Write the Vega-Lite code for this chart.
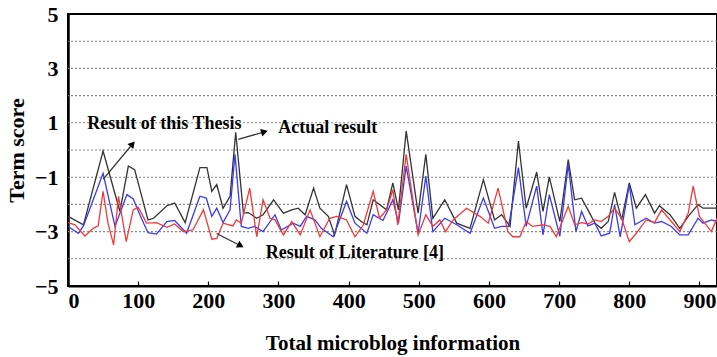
{
  "$schema": "https://vega.github.io/schema/vega-lite/v6.json",
  "width": 649,
  "height": 272,
  "autosize": "none",
  "padding": {"left": 68, "top": 14, "right": 0, "bottom": 71},
  "background": "white",
  "config": {"view": {"stroke": "black", "strokeWidth": 2}, "font": "Liberation Serif"},
  "datasets": {
    "grid": [{"v": -4}, {"v": -3}, {"v": -2}, {"v": -1}, {"v": 0}, {"v": 1}, {"v": 2}, {"v": 3}, {"v": 4}],
    "series": [
      {"s":"Actual result","x":0,"y":-2.44},{"s":"Actual result","x":22,"y":-2.75},{"s":"Actual result","x":50,"y":-0.04},{"s":"Actual result","x":74,"y":-2.26},{"s":"Actual result","x":86,"y":-0.59},{"s":"Actual result","x":95,"y":-0.72},{"s":"Actual result","x":114,"y":-2.57},{"s":"Actual result","x":122,"y":-2.51},{"s":"Actual result","x":141,"y":-2.05},{"s":"Actual result","x":152,"y":-1.95},{"s":"Actual result","x":167,"y":-2.67},{"s":"Actual result","x":188,"y":-0.65},{"s":"Actual result","x":198,"y":-0.65},{"s":"Actual result","x":205,"y":-1.52},{"s":"Actual result","x":212,"y":-1.27},{"s":"Actual result","x":221,"y":-2.14},{"s":"Actual result","x":231,"y":-1.7},{"s":"Actual result","x":239,"y":0.65},{"s":"Actual result","x":250,"y":-2.32},{"s":"Actual result","x":257,"y":-2.3},{"s":"Actual result","x":269,"y":-2.51},{"s":"Actual result","x":278,"y":-2.38},{"s":"Actual result","x":293,"y":-1.83},{"s":"Actual result","x":307,"y":-2.32},{"s":"Actual result","x":319,"y":-2.2},{"s":"Actual result","x":328,"y":-2.14},{"s":"Actual result","x":338,"y":-2.38},{"s":"Actual result","x":350,"y":-1.4},{"s":"Actual result","x":359,"y":-2.14},{"s":"Actual result","x":371,"y":-2.44},{"s":"Actual result","x":380,"y":-3.12},{"s":"Actual result","x":397,"y":-1.27},{"s":"Actual result","x":409,"y":-2.44},{"s":"Actual result","x":418,"y":-2.63},{"s":"Actual result","x":426,"y":-2.75},{"s":"Actual result","x":435,"y":-1.83},{"s":"Actual result","x":454,"y":-2.2},{"s":"Actual result","x":463,"y":-1.21},{"s":"Actual result","x":471,"y":-2.2},{"s":"Actual result","x":482,"y":0.7},{"s":"Actual result","x":499,"y":-2.32},{"s":"Actual result","x":510,"y":-0.16},{"s":"Actual result","x":520,"y":-2.51},{"s":"Actual result","x":537,"y":-1.83},{"s":"Actual result","x":554,"y":-2.69},{"s":"Actual result","x":573,"y":-2.88},{"s":"Actual result","x":592,"y":-1.09},{"s":"Actual result","x":608,"y":-2.57},{"s":"Actual result","x":618,"y":-2.38},{"s":"Actual result","x":630,"y":-2.81},{"s":"Actual result","x":642,"y":0.33},{"s":"Actual result","x":653,"y":-2.14},{"s":"Actual result","x":668,"y":-0.81},{"s":"Actual result","x":677,"y":-2.26},{"s":"Actual result","x":686,"y":-0.99},{"s":"Actual result","x":701,"y":-2.63},{"s":"Actual result","x":713,"y":-0.35},{"s":"Actual result","x":722,"y":-1.83},{"s":"Actual result","x":732,"y":-1.77},{"s":"Actual result","x":741,"y":-2.2},{"s":"Actual result","x":751,"y":-2.69},{"s":"Actual result","x":760,"y":-2.88},{"s":"Actual result","x":770,"y":-2.63},{"s":"Actual result","x":779,"y":-1.56},{"s":"Actual result","x":789,"y":-2.57},{"s":"Actual result","x":800,"y":-1.21},{"s":"Actual result","x":810,"y":-2.14},{"s":"Actual result","x":823,"y":-1.64},{"s":"Actual result","x":836,"y":-2.32},{"s":"Actual result","x":843,"y":-2.05},{"s":"Actual result","x":858,"y":-2.38},{"s":"Actual result","x":872,"y":-2.88},{"s":"Actual result","x":884,"y":-2.44},{"s":"Actual result","x":898,"y":-2.01},{"s":"Actual result","x":905,"y":-2.14},{"s":"Actual result","x":925,"y":-2.14},
      {"s":"Result of this Thesis","x":0,"y":-2.81},{"s":"Result of this Thesis","x":15,"y":-3.06},{"s":"Result of this Thesis","x":22,"y":-2.79},{"s":"Result of this Thesis","x":50,"y":-0.86},{"s":"Result of this Thesis","x":67,"y":-2.81},{"s":"Result of this Thesis","x":84,"y":-1.64},{"s":"Result of this Thesis","x":93,"y":-1.8},{"s":"Result of this Thesis","x":103,"y":-2.42},{"s":"Result of this Thesis","x":114,"y":-3.04},{"s":"Result of this Thesis","x":126,"y":-3.09},{"s":"Result of this Thesis","x":141,"y":-2.63},{"s":"Result of this Thesis","x":152,"y":-2.59},{"s":"Result of this Thesis","x":169,"y":-3.06},{"s":"Result of this Thesis","x":188,"y":-1.7},{"s":"Result of this Thesis","x":197,"y":-1.77},{"s":"Result of this Thesis","x":205,"y":-2.44},{"s":"Result of this Thesis","x":212,"y":-2.14},{"s":"Result of this Thesis","x":221,"y":-2.67},{"s":"Result of this Thesis","x":231,"y":-2.2},{"s":"Result of this Thesis","x":238,"y":-0.16},{"s":"Result of this Thesis","x":247,"y":-2.81},{"s":"Result of this Thesis","x":257,"y":-2.88},{"s":"Result of this Thesis","x":266,"y":-2.81},{"s":"Result of this Thesis","x":278,"y":-3.0},{"s":"Result of this Thesis","x":295,"y":-2.38},{"s":"Result of this Thesis","x":304,"y":-2.94},{"s":"Result of this Thesis","x":321,"y":-2.69},{"s":"Result of this Thesis","x":331,"y":-2.81},{"s":"Result of this Thesis","x":340,"y":-2.44},{"s":"Result of this Thesis","x":352,"y":-2.57},{"s":"Result of this Thesis","x":361,"y":-2.88},{"s":"Result of this Thesis","x":378,"y":-3.19},{"s":"Result of this Thesis","x":397,"y":-1.89},{"s":"Result of this Thesis","x":409,"y":-2.69},{"s":"Result of this Thesis","x":426,"y":-3.06},{"s":"Result of this Thesis","x":435,"y":-2.38},{"s":"Result of this Thesis","x":449,"y":-2.59},{"s":"Result of this Thesis","x":463,"y":-1.83},{"s":"Result of this Thesis","x":471,"y":-2.69},{"s":"Result of this Thesis","x":482,"y":-0.59},{"s":"Result of this Thesis","x":499,"y":-3.06},{"s":"Result of this Thesis","x":510,"y":-0.96},{"s":"Result of this Thesis","x":520,"y":-3.0},{"s":"Result of this Thesis","x":537,"y":-2.51},{"s":"Result of this Thesis","x":554,"y":-2.75},{"s":"Result of this Thesis","x":573,"y":-3.06},{"s":"Result of this Thesis","x":592,"y":-1.77},{"s":"Result of this Thesis","x":608,"y":-2.88},{"s":"Result of this Thesis","x":618,"y":-2.81},{"s":"Result of this Thesis","x":628,"y":-2.81},{"s":"Result of this Thesis","x":642,"y":-0.65},{"s":"Result of this Thesis","x":653,"y":-2.81},{"s":"Result of this Thesis","x":668,"y":-1.33},{"s":"Result of this Thesis","x":677,"y":-3.12},{"s":"Result of this Thesis","x":686,"y":-1.64},{"s":"Result of this Thesis","x":701,"y":-3.17},{"s":"Result of this Thesis","x":713,"y":-0.53},{"s":"Result of this Thesis","x":724,"y":-3.0},{"s":"Result of this Thesis","x":732,"y":-2.26},{"s":"Result of this Thesis","x":741,"y":-2.79},{"s":"Result of this Thesis","x":751,"y":-2.69},{"s":"Result of this Thesis","x":760,"y":-3.16},{"s":"Result of this Thesis","x":772,"y":-3.06},{"s":"Result of this Thesis","x":779,"y":-2.01},{"s":"Result of this Thesis","x":787,"y":-3.19},{"s":"Result of this Thesis","x":800,"y":-1.27},{"s":"Result of this Thesis","x":808,"y":-2.75},{"s":"Result of this Thesis","x":824,"y":-2.51},{"s":"Result of this Thesis","x":836,"y":-2.69},{"s":"Result of this Thesis","x":846,"y":-2.63},{"s":"Result of this Thesis","x":860,"y":-2.81},{"s":"Result of this Thesis","x":872,"y":-3.12},{"s":"Result of this Thesis","x":884,"y":-3.12},{"s":"Result of this Thesis","x":898,"y":-2.51},{"s":"Result of this Thesis","x":905,"y":-2.69},{"s":"Result of this Thesis","x":917,"y":-2.57},{"s":"Result of this Thesis","x":925,"y":-2.63},
      {"s":"Result of Literature [4]","x":0,"y":-2.67},{"s":"Result of Literature [4]","x":10,"y":-2.75},{"s":"Result of Literature [4]","x":24,"y":-3.16},{"s":"Result of Literature [4]","x":36,"y":-2.88},{"s":"Result of Literature [4]","x":43,"y":-2.79},{"s":"Result of Literature [4]","x":50,"y":-1.52},{"s":"Result of Literature [4]","x":57,"y":-2.69},{"s":"Result of Literature [4]","x":65,"y":-3.49},{"s":"Result of Literature [4]","x":72,"y":-1.7},{"s":"Result of Literature [4]","x":83,"y":-3.37},{"s":"Result of Literature [4]","x":93,"y":-2.2},{"s":"Result of Literature [4]","x":100,"y":-2.1},{"s":"Result of Literature [4]","x":112,"y":-2.69},{"s":"Result of Literature [4]","x":126,"y":-2.67},{"s":"Result of Literature [4]","x":141,"y":-2.84},{"s":"Result of Literature [4]","x":152,"y":-2.72},{"s":"Result of Literature [4]","x":164,"y":-3.0},{"s":"Result of Literature [4]","x":178,"y":-2.94},{"s":"Result of Literature [4]","x":193,"y":-2.2},{"s":"Result of Literature [4]","x":205,"y":-3.28},{"s":"Result of Literature [4]","x":212,"y":-3.25},{"s":"Result of Literature [4]","x":221,"y":-2.69},{"s":"Result of Literature [4]","x":235,"y":-2.79},{"s":"Result of Literature [4]","x":240,"y":-2.57},{"s":"Result of Literature [4]","x":247,"y":-2.69},{"s":"Result of Literature [4]","x":259,"y":-1.4},{"s":"Result of Literature [4]","x":269,"y":-3.19},{"s":"Result of Literature [4]","x":278,"y":-1.83},{"s":"Result of Literature [4]","x":288,"y":-2.51},{"s":"Result of Literature [4]","x":295,"y":-2.57},{"s":"Result of Literature [4]","x":307,"y":-3.12},{"s":"Result of Literature [4]","x":319,"y":-2.63},{"s":"Result of Literature [4]","x":331,"y":-3.12},{"s":"Result of Literature [4]","x":345,"y":-2.2},{"s":"Result of Literature [4]","x":359,"y":-3.19},{"s":"Result of Literature [4]","x":373,"y":-2.51},{"s":"Result of Literature [4]","x":383,"y":-2.44},{"s":"Result of Literature [4]","x":397,"y":-2.57},{"s":"Result of Literature [4]","x":409,"y":-3.19},{"s":"Result of Literature [4]","x":421,"y":-2.75},{"s":"Result of Literature [4]","x":435,"y":-1.52},{"s":"Result of Literature [4]","x":444,"y":-2.51},{"s":"Result of Literature [4]","x":454,"y":-2.2},{"s":"Result of Literature [4]","x":463,"y":-1.46},{"s":"Result of Literature [4]","x":470,"y":-2.75},{"s":"Result of Literature [4]","x":482,"y":-0.16},{"s":"Result of Literature [4]","x":499,"y":-3.12},{"s":"Result of Literature [4]","x":510,"y":-2.38},{"s":"Result of Literature [4]","x":520,"y":-2.81},{"s":"Result of Literature [4]","x":530,"y":-2.57},{"s":"Result of Literature [4]","x":538,"y":-3.0},{"s":"Result of Literature [4]","x":549,"y":-2.57},{"s":"Result of Literature [4]","x":568,"y":-2.14},{"s":"Result of Literature [4]","x":587,"y":-2.44},{"s":"Result of Literature [4]","x":599,"y":-2.69},{"s":"Result of Literature [4]","x":613,"y":-1.4},{"s":"Result of Literature [4]","x":627,"y":-3.0},{"s":"Result of Literature [4]","x":634,"y":-3.19},{"s":"Result of Literature [4]","x":644,"y":-3.19},{"s":"Result of Literature [4]","x":653,"y":-2.63},{"s":"Result of Literature [4]","x":662,"y":-2.81},{"s":"Result of Literature [4]","x":677,"y":-2.75},{"s":"Result of Literature [4]","x":687,"y":-2.81},{"s":"Result of Literature [4]","x":696,"y":-3.19},{"s":"Result of Literature [4]","x":713,"y":-2.07},{"s":"Result of Literature [4]","x":722,"y":-2.75},{"s":"Result of Literature [4]","x":732,"y":-2.67},{"s":"Result of Literature [4]","x":741,"y":-2.72},{"s":"Result of Literature [4]","x":751,"y":-2.57},{"s":"Result of Literature [4]","x":760,"y":-2.63},{"s":"Result of Literature [4]","x":770,"y":-2.44},{"s":"Result of Literature [4]","x":779,"y":-2.14},{"s":"Result of Literature [4]","x":789,"y":-2.51},{"s":"Result of Literature [4]","x":800,"y":-3.37},{"s":"Result of Literature [4]","x":810,"y":-3.06},{"s":"Result of Literature [4]","x":824,"y":-2.57},{"s":"Result of Literature [4]","x":836,"y":-2.67},{"s":"Result of Literature [4]","x":846,"y":-2.2},{"s":"Result of Literature [4]","x":860,"y":-2.63},{"s":"Result of Literature [4]","x":872,"y":-3.0},{"s":"Result of Literature [4]","x":884,"y":-2.32},{"s":"Result of Literature [4]","x":891,"y":-1.33},{"s":"Result of Literature [4]","x":900,"y":-2.44},{"s":"Result of Literature [4]","x":917,"y":-3.0},{"s":"Result of Literature [4]","x":925,"y":-2.51}
    ],
    "labels": [
      {"label": "Result of this Thesis", "x": 27.5, "y": 0.97},
      {"label": "Actual result", "x": 299.6, "y": 0.81},
      {"label": "Result of Literature [4]", "x": 282, "y": -3.77}
    ],
    "arrows": [
      {"id": "a1", "x": 50.3, "y": -1.07, "x2": 92, "y2": 0.22},
      {"id": "a2", "x": 242.6, "y": 0.39, "x2": 280, "y2": 0.67},
      {"id": "a3", "x": 211.8, "y": -3.07, "x2": 246, "y2": -3.52}
    ]
  },
  "layer": [
    {
      "data": {"name": "grid"},
      "mark": {"type": "rule", "color": "#888", "strokeWidth": 1.1, "strokeDash": [2, 2]},
      "encoding": {"y": {"field": "v", "type": "quantitative"}}
    },
    {
      "data": {"name": "series"},
      "mark": {"type": "line", "strokeWidth": 1.3},
      "encoding": {
        "x": {"field": "x", "type": "quantitative",
          "scale": {"domain": [0, 925], "nice": false, "zero": false},
          "axis": {"title": "Total microblog information", "values": [0,100,200,300,400,500,600,700,800,900],
            "grid": false, "domainColor": "black", "domainWidth": 2, "tickColor": "black", "tickSize": -5, "tickWidth": 1.2,
            "labelPadding": 9, "labelFont": "Liberation Serif", "labelFontWeight": "bold", "labelFontSize": 22, "labelColor": "black",
            "titleFont": "Liberation Serif", "titleFontWeight": "bold", "titleFontSize": 21, "titleColor": "black", "titlePadding": 21}},
        "y": {"field": "y", "type": "quantitative",
          "scale": {"domain": [-5, 5], "nice": false},
          "axis": {"title": "Term score", "values": [-5,-3,-1,1,3,5],
            "grid": false, "ticks": false, "domainColor": "black", "domainWidth": 2.5, "labelPadding": 10,
            "labelFont": "Liberation Serif", "labelFontWeight": "bold", "labelFontSize": 22, "labelColor": "black",
            "titleFont": "Liberation Serif", "titleFontWeight": "bold", "titleFontSize": 22, "titleColor": "black", "titlePadding": 6}},
        "color": {"field": "s", "type": "nominal",
          "scale": {"domain": ["Result of Literature [4]", "Result of this Thesis", "Actual result"], "range": ["#f03a3a", "#3a3af0", "#333333"]},
          "legend": null}
      }
    },
    {
      "data": {"name": "arrows"},
      "mark": {"type": "rule", "color": "#333", "strokeWidth": 1.3},
      "encoding": {
        "x": {"field": "x", "type": "quantitative"},
        "y": {"field": "y", "type": "quantitative"},
        "x2": {"field": "x2"},
        "y2": {"field": "y2"}
      }
    },
    {
      "data": {"name": "arrows"},
      "transform": [{"filter": "datum.id == 'a1'"}],
      "mark": {"type": "point", "shape": "triangle-up", "filled": true, "color": "black", "size": 60, "angle": 40, "opacity": 1},
      "encoding": {"x": {"field": "x2", "type": "quantitative"}, "y": {"field": "y2", "type": "quantitative"}}
    },
    {
      "data": {"name": "arrows"},
      "transform": [{"filter": "datum.id == 'a2'"}],
      "mark": {"type": "point", "shape": "triangle-up", "filled": true, "color": "black", "size": 60, "angle": 74, "opacity": 1},
      "encoding": {"x": {"field": "x2", "type": "quantitative"}, "y": {"field": "y2", "type": "quantitative"}}
    },
    {
      "data": {"name": "arrows"},
      "transform": [{"filter": "datum.id == 'a3'"}],
      "mark": {"type": "point", "shape": "triangle-up", "filled": true, "color": "black", "size": 60, "angle": 118, "opacity": 1},
      "encoding": {"x": {"field": "x2", "type": "quantitative"}, "y": {"field": "y2", "type": "quantitative"}}
    },
    {
      "data": {"name": "labels"},
      "mark": {"type": "text", "align": "left", "baseline": "middle", "font": "Liberation Serif", "fontWeight": "bold", "fontSize": 18, "color": "black"},
      "encoding": {
        "x": {"field": "x", "type": "quantitative"},
        "y": {"field": "y", "type": "quantitative"},
        "text": {"field": "label"}
      }
    }
  ]
}
